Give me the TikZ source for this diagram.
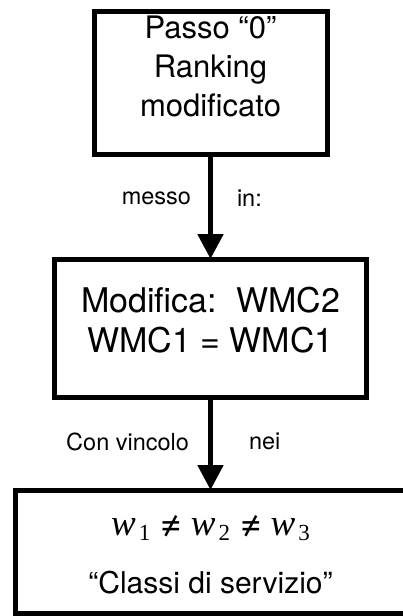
\documentclass[tikz,border=0pt]{standalone}
\usepackage{fontspec}
\setmainfont{TeX Gyre Heros}
\newfontfamily\serifw{Liberation Serif}
\usetikzlibrary{positioning, arrows.meta, calc}

% w with an upright index, set as in the equation editor
\newcommand{\wsub}[1]{{\serifw\itshape w}\kern3pt\raisebox{-5pt}{\fontsize{23}{23}\serifw #1}}

\begin{document}
\begin{tikzpicture}[
    x=1pt, y=-1pt,
    riquadro/.style={
        rectangle,
        draw=black,
        line width=5pt,
        inner sep=0pt,
        outer sep=0pt
    },
    testo/.style={
        align=center,
        inner sep=0pt
    },
    etichetta/.style={
        inner sep=0pt,
        font=\fontsize{23.5}{27}\selectfont
    },
    freccia/.style={
        line width=5pt,
        -{Triangle[length=25pt, width=25pt]}
    }
]
    \useasboundingbox (0,0) rectangle (403,616);

    % Boxes
    \node[riquadro, minimum width=233pt, minimum height=143.5pt] (passo) at (210.5,82.75) {};
    \node[riquadro, minimum width=311.5pt, minimum height=138pt, below=104.5pt of passo] (modifica) {};
    \node[riquadro, minimum width=391pt, minimum height=123pt, below=93pt of modifica] (classi) {};

    % Box texts
    \node[testo, font=\fontsize{31}{39}\selectfont, below=5pt of passo.north] (passotesto)
        {Passo “0”\\Ranking\\modificato};
    \node[testo, font=\fontsize{34}{40}\selectfont, below=28pt of modifica.north] (modificatesto)
        {Modifica:\ \ WMC2\\WMC1 = WMC1};
    \node[testo, font=\fontsize{37}{40}\selectfont, anchor=base] (vincoli) at ($(classi.north)+(0,45)$)
        {\wsub{1}\hspace{10pt}≠\hspace{9pt}\wsub{2}\hspace{10pt}≠\hspace{9pt}\wsub{3}};
    \node[testo, font=\fontsize{30}{36}\selectfont, anchor=base] (classitesto) at ($(classi.north)+(0,103)$)
        {“Classi di servizio”};

    % Arrows
    \draw[freccia] (passo) -- node[etichetta, pos=0.42, left=17pt] {messo}
        node[etichetta, pos=0.42, right=24pt] {in:} (modifica);
    \draw[freccia] (modifica) -- node[etichetta, pos=0.48, left=19pt] {Con vincolo}
        node[etichetta, pos=0.48, right=36pt] {nei} (classi);

\end{tikzpicture}
\end{document}
